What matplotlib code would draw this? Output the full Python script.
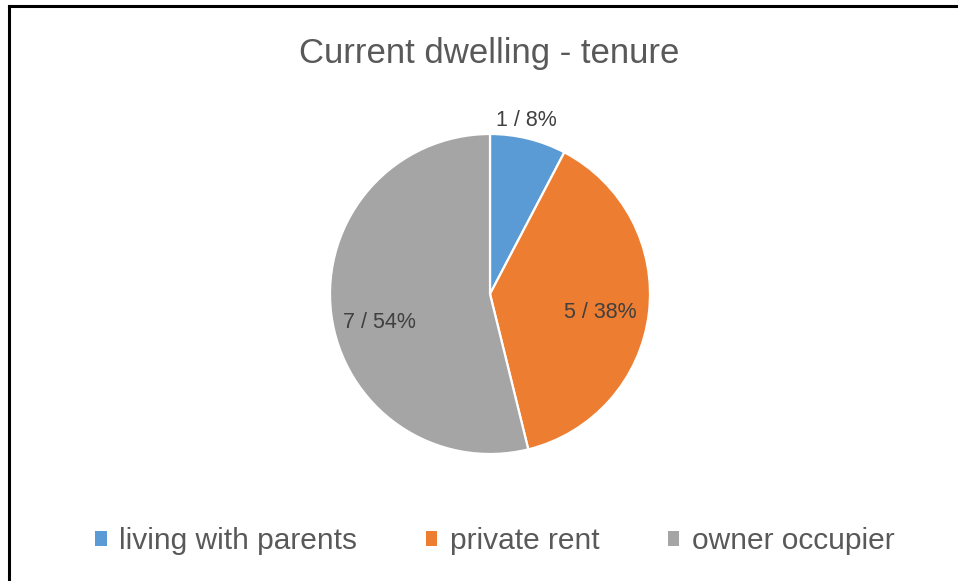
import numpy as np
import matplotlib
matplotlib.use("Agg")
import matplotlib.pyplot as plt
from matplotlib.lines import Line2D
from matplotlib.patches import Patch

plt.rcParams["font.family"] = ["Liberation Sans", "DejaVu Sans"]

categories = ["living with parents", "private rent", "owner occupier"]
counts = [1, 5, 7]
colors = ["#5B9BD5", "#ED7D31", "#A5A5A5"]

TEXT = "#595959"
LABEL = "#404040"

W, H = 958, 581
fig = plt.figure(figsize=(W / 100, H / 100), dpi=100)

# frame (left + top only, image is cropped)
fig.add_artist(Line2D([9 / W, 9 / W], [0, 1 - 6 / H], color="black", lw=2.2,
                      transform=fig.transFigure))
fig.add_artist(Line2D([9 / W, 1], [1 - 6 / H, 1 - 6 / H], color="black", lw=2.2,
                      transform=fig.transFigure))

cx, cy, r = 490, 294, 160
ax = fig.add_axes([(cx - r) / W, (H - cy - r) / H, 2 * r / W, 2 * r / H])
wedges, _ = ax.pie(counts, colors=colors, startangle=90, counterclock=False,
                   wedgeprops=dict(edgecolor="white", linewidth=1.6))
ax.set_xlim(-1, 1)
ax.set_ylim(-1, 1)
ax.axis("off")

# data labels: radial distance and small angular nudge (deg) like Excel's placement
total = sum(counts)
label_pos = [(1.11, 2.0), (0.70, -2.4), (0.71, 7.4)]
for w, n, (d, nudge) in zip(wedges, counts, label_pos):
    mid = np.deg2rad((w.theta1 + w.theta2) / 2 + nudge)
    ax.text(d * np.cos(mid), d * np.sin(mid), f"{n} / {n / total:.0%}",
            ha="center", va="center", fontsize=15.5, color=LABEL)

fig.text(489 / W, 1 - 53 / H, "Current dwelling - tenure", ha="center", va="center",
         fontsize=25, color=TEXT)

handles = [Patch(facecolor=c, edgecolor="none") for c in colors]
fig.legend(handles, categories, loc="center", bbox_to_anchor=(495 / W, 1 - 541 / H),
           ncol=3, frameon=False, fontsize=21.5, labelcolor=TEXT,
           handlelength=0.38, handleheight=0.38, handletextpad=0.42, columnspacing=2.3)

fig.savefig("out.png", dpi=100)
